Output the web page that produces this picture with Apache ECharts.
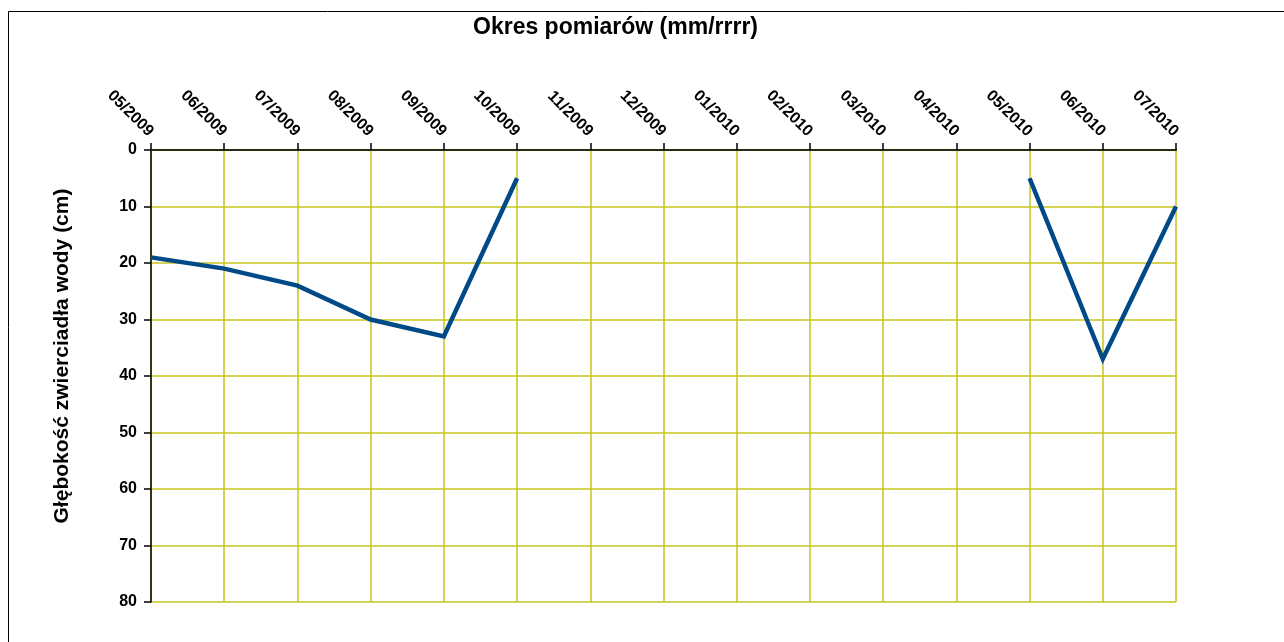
<!DOCTYPE html>
<html>
<head>
<meta charset="utf-8">
<script src="https://cdn.jsdelivr.net/npm/echarts@6/dist/echarts.min.js"></script>
<style>
  html, body { margin: 0; padding: 0; background: #fff; }
  #chart { width: 1284px; height: 642px; }
</style>
</head>
<body>
<div id="chart"></div>
<script>
// months on the top axis
const months = ['05/2009', '06/2009', '07/2009', '08/2009', '09/2009', '10/2009', '11/2009', '12/2009',
    '01/2010', '02/2010', '03/2010', '04/2010', '05/2010', '06/2010', '07/2010'];
// water table depth (cm), null = no measurement
const depth = [19, 21, 24, 30, 33, 5, null, null, null, null, null, null, 5, 37, 10];
const yTicks = [0, 10, 20, 30, 40, 50, 60, 70, 80];

const font = 'Liberation Sans, Arial, sans-serif';
const gridColor = '#c4c41e';

const myChart = echarts.init(document.getElementById('chart'));
const option = {
    animation: false,
    graphic: [{
        type: 'rect',
        shape: { x: 8.5, y: 11.5, width: 1300, height: 700 },
        style: { fill: 'none', stroke: '#000', lineWidth: 1 },
        silent: true
    }],
    title: {
        text: 'Okres pomiarów (mm/rrrr)',
        left: 468,
        top: 11,
        textStyle: { fontFamily: font, fontSize: 23, fontWeight: 'bold', color: '#000' }
    },
    grid: { left: 151, right: 108, top: 150, bottom: 40 },
    xAxis: {
        type: 'category',
        position: 'top',
        data: months,
        boundaryGap: false,
        axisLine: { lineStyle: { color: '#2a2a10', width: 2 } },
        axisTick: { inside: false, length: 7, lineStyle: { color: '#000', width: 1.5 } },
        axisLabel: {
            interval: 0,
            rotate: -45,
            margin: 16,
            fontFamily: font,
            fontSize: 16,
            fontWeight: 'bold',
            color: '#000'
        },
        splitLine: { show: true, lineStyle: { color: gridColor, width: 1.5 } }
    },
    yAxis: {
        type: 'value',
        inverse: true,
        min: yTicks[0],
        max: yTicks[yTicks.length - 1],
        interval: 10,
        name: 'Głębokość zwierciadła wody (cm)',
        nameLocation: 'middle',
        nameGap: 78,
        nameRotate: 90,
        nameTextStyle: {
            fontFamily: font, fontSize: 21, fontWeight: 'bold', color: '#000',
            padding: [0, 0, 0, 40]
        },
        axisLine: { show: true, lineStyle: { color: '#000', width: 1.5 } },
        axisTick: { show: true, length: 7, lineStyle: { color: '#000', width: 1.5 } },
        axisLabel: {
            margin: 14,
            fontFamily: font,
            fontSize: 16,
            fontWeight: 'bold',
            color: '#000'
        },
        splitLine: { show: true, lineStyle: { color: gridColor, width: 1.5 } }
    },
    series: [{
        type: 'line',
        data: depth,
        connectNulls: false,
        showSymbol: false,
        symbol: 'none',
        lineStyle: { color: '#004a87', width: 4.5, join: 'miter' },
        itemStyle: { color: '#004a87' }
    }]
};
myChart.setOption(option);
</script>
</body>
</html>
